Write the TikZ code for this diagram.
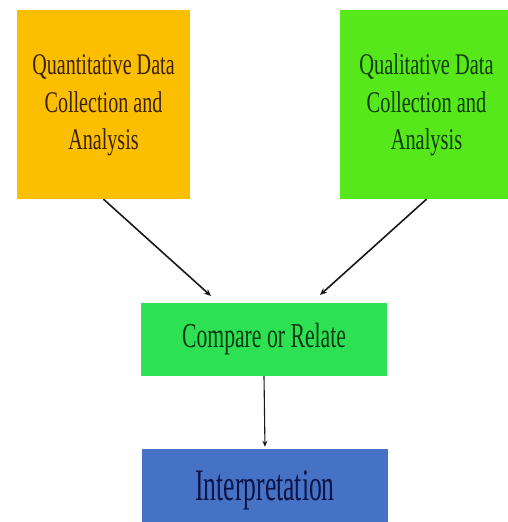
\documentclass[tikz,border=0pt]{standalone}
\usepackage{fontspec}
\setmainfont{Liberation Serif}
\usetikzlibrary{arrows.meta}
\definecolor{qorange}{HTML}{FCBF00}
\definecolor{qlgreen}{HTML}{57E81B}
\definecolor{cgreen}{HTML}{2DE152}
\definecolor{iblue}{HTML}{4672C6}
\definecolor{otext}{HTML}{3A2204}
\definecolor{gtext}{HTML}{0E3A08}
\definecolor{ctext}{HTML}{0B3A12}
\definecolor{btext}{HTML}{0C1448}
\begin{document}
\begin{tikzpicture}[x=1pt,y=-1pt,
  box/.style={draw=none,inner sep=0pt,anchor=center},
  conn/.style={draw=black!90,line width=1.6pt,-{Stealth[length=7pt,width=6pt]}}]
\useasboundingbox (0,0) rectangle (508,522);
\fill[white] (0,0) rectangle (508,522);
\node[box,fill=qorange,minimum width=173pt,minimum height=189pt] (quan) at (103.5,104.5)
  {\scalebox{0.67}[1]{\fontsize{30}{37.5}\selectfont\color{otext}\begin{tabular}{@{}c@{}}Quantitative Data\\Collection and\\Analysis\end{tabular}}};
\node[box,fill=qlgreen,minimum width=173pt,minimum height=189pt] (qual) at (426.5,104.5)
  {\scalebox{0.68}[1]{\fontsize{30}{37.5}\selectfont\color{gtext}\begin{tabular}{@{}c@{}}Qualitative Data\\Collection and\\Analysis\end{tabular}}};
\node[box,fill=cgreen,minimum width=246pt,minimum height=73pt] (cmp) at (264,339.5)
  {\scalebox{0.62}[1]{\fontsize{35}{42}\selectfont\color{ctext}Compare or Relate}};
\node[box,fill=iblue,minimum width=246pt,minimum height=83pt] (interp) at (265,490.5)
  {\scalebox{0.57}[1]{\fontsize{45}{54}\selectfont\color{btext}Interpretation}};
\coordinate (cl) at (211,296);
\coordinate (cr) at (320,295);
\draw[conn] (quan.south) -- (cl);
\draw[conn] (qual.south) -- (cr);
\draw[conn,line width=1.1pt,-{Stealth[length=6pt,width=5pt]},shorten >=2pt] (cmp.south) -- (interp.north);
\end{tikzpicture}
\end{document}
